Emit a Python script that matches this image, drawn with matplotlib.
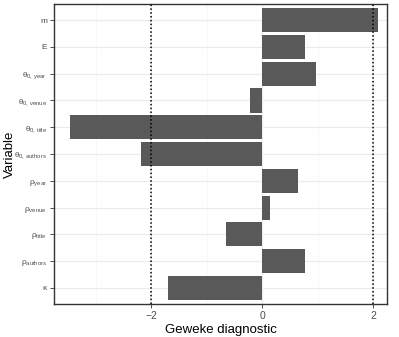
import numpy as np
import matplotlib.pyplot as plt

plt.rcParams['font.family'] = ['Liberation Sans', 'DejaVu Sans']
plt.rcParams['mathtext.fontset'] = 'custom'
plt.rcParams['mathtext.rm'] = 'Liberation Sans'
plt.rcParams['mathtext.it'] = 'Liberation Sans'

labels = ['m', 'E', r'$\mathrm{θ}_{\mathrm{0,\,year}}$', r'$\mathrm{θ}_{\mathrm{0,\,venue}}$',
          r'$\mathrm{θ}_{\mathrm{0,\,title}}$', r'$\mathrm{θ}_{\mathrm{0,\,authors}}$',
          r'$\mathrm{ρ}_{\mathrm{year}}$', r'$\mathrm{ρ}_{\mathrm{venue}}$', r'$\mathrm{ρ}_{\mathrm{title}}$',
          r'$\mathrm{ρ}_{\mathrm{authors}}$', 'κ']
geweke = [2.09, 0.77, 0.97, -0.22, -3.46, -2.18, 0.65, 0.14, -0.65, 0.77, -1.69]

fig = plt.figure(figsize=(3.99, 3.37), dpi=100)
ax = fig.add_axes([0.135, 0.098, 0.835, 0.89])

n = len(labels)
y = np.arange(n)[::-1]
ax.barh(y, geweke, height=0.9, color='#595959', zorder=2)
for v in (-2, 2):
    ax.axvline(v, color='black', ls=(0, (1, 1.5)), lw=1.1, zorder=3)

ax.set_xlim(-3.75, 2.25)
ax.set_ylim(-0.6, n - 0.4)
ax.set_xticks([-2, 0, 2])
ax.set_xticklabels(['\u22122', '0', '2'])
ax.set_xticks([-3, -1, 1], minor=True)
ax.set_yticks(y)
ax.set_yticklabels(labels)
ax.grid(True, which='major', color='#EBEBEB', lw=0.8, zorder=0)
ax.grid(True, which='minor', axis='x', color='#F4F4F4', lw=0.5, zorder=0)
ax.tick_params(which='minor', length=0)
ax.tick_params(which='major', length=3, width=0.6, color='#333333',
               labelcolor='#4D4D4D', pad=2)
ax.tick_params(axis='y', labelsize=6)
ax.tick_params(axis='x', labelsize=7.5)
for s in ax.spines.values():
    s.set_color('#333333')
    s.set_linewidth(1.0)

ax.set_xlabel('Geweke diagnostic', fontsize=9.5, labelpad=2)
ax.set_ylabel('Variable', fontsize=9.5)
ax.yaxis.set_label_coords(-0.115, 0.5)

fig.savefig('out.png', dpi=100)
